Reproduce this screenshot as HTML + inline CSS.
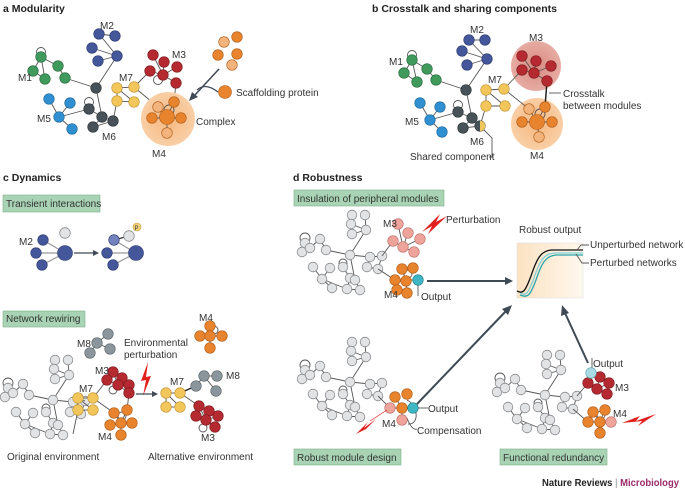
<!DOCTYPE html>
<html><head><meta charset="utf-8"><style>
html,body{margin:0;padding:0;background:#fff}
svg{display:block}
text{font-family:"Liberation Sans",sans-serif;font-size:10px;fill:#333}
.t{font-weight:bold;font-size:10.5px;fill:#222}
.e{stroke:#555;stroke-width:0.9;fill:none}
.g{fill:#e2e3e5;stroke:#8a8c8f;stroke-width:0.8}
</style></head><body>
<svg width="685" height="491" viewBox="0 0 685 491" xmlns="http://www.w3.org/2000/svg">
<defs>
<radialGradient id="og"><stop offset="0" stop-color="#f6b77f"/><stop offset="1" stop-color="#f9cfa6"/></radialGradient>
<radialGradient id="rg"><stop offset="0" stop-color="#d88a80"/><stop offset="1" stop-color="#e7aca3"/></radialGradient>
<linearGradient id="cg" x1="0" x2="1"><stop offset="0" stop-color="#fbe2c2"/><stop offset="1" stop-color="#fff8ee"/></linearGradient>
<g id="net">
<g class="e">
<line x1="52" y1="2" x2="51" y2="11"/><line x1="65" y1="2" x2="66" y2="17"/><line x1="51" y1="11" x2="66" y2="17"/><line x1="52" y1="21" x2="66" y2="17"/>
<line x1="66" y1="17" x2="50" y2="42"/><line x1="5" y1="30" x2="10" y2="35"/><line x1="5" y1="30" x2="2" y2="39"/><line x1="20" y1="26" x2="26" y2="37"/>
<line x1="10" y1="35" x2="20" y2="26"/><line x1="26" y1="37" x2="50" y2="42"/><line x1="50" y1="42" x2="70" y2="44"/><line x1="70" y1="44" x2="82" y2="43"/>
<line x1="50" y1="42" x2="55" y2="67"/><line x1="13" y1="54" x2="22" y2="66"/><line x1="30" y1="55" x2="22" y2="66"/><line x1="22" y1="66" x2="32" y2="75"/>
<line x1="22" y1="66" x2="47" y2="76"/><line x1="43" y1="54" x2="50" y2="65"/><line x1="50" y1="65" x2="47" y2="76"/><line x1="55" y1="67" x2="60" y2="77"/>
<line x1="47" y1="76" x2="60" y2="77"/><line x1="70" y1="44" x2="67" y2="54"/><line x1="67" y1="54" x2="78" y2="56"/><line x1="82" y1="43" x2="78" y2="56"/>
<circle cx="5" cy="25" r="5"/><circle cx="43" cy="50" r="4"/>
</g>
<g class="g">
<circle cx="52" cy="2" r="4.8"/><circle cx="65" cy="2" r="4.8"/><circle cx="51" cy="11" r="4.8"/><circle cx="66" cy="17" r="4.8"/><circle cx="52" cy="21" r="4.8"/>
<circle cx="5" cy="30" r="4.8"/><circle cx="2" cy="39" r="4.8"/><circle cx="20" cy="26" r="4.8"/><circle cx="10" cy="35" r="4.8"/><circle cx="26" cy="37" r="4.8"/>
<circle cx="50" cy="42" r="4.8"/><circle cx="70" cy="44" r="4.8"/><circle cx="82" cy="43" r="4.8"/><circle cx="13" cy="54" r="4.8"/><circle cx="30" cy="55" r="4.8"/>
<circle cx="43" cy="54" r="4.8"/><circle cx="22" cy="66" r="4.8"/><circle cx="32" cy="75" r="4.8"/><circle cx="50" cy="65" r="4.8"/><circle cx="55" cy="67" r="4.8"/>
<circle cx="47" cy="76" r="4.8"/><circle cx="60" cy="77" r="4.8"/><circle cx="67" cy="54" r="4.8"/><circle cx="78" cy="56" r="4.8"/>
</g>
</g>
</defs>

<!-- ===== a ===== -->
<text x="3" y="12" class="t">a  Modularity</text>
<g class="e">
<circle cx="41" cy="52" r="4.5"/>
<line x1="41" y1="57" x2="58" y2="66"/><line x1="41" y1="57" x2="33" y2="71"/><line x1="41" y1="57" x2="45" y2="79"/><line x1="33" y1="71" x2="45" y2="79"/><line x1="58" y1="66" x2="65" y2="78"/>
<line x1="65" y1="78" x2="96" y2="88"/><line x1="99" y1="34" x2="115" y2="36"/><line x1="99" y1="34" x2="117" y2="56"/><line x1="92" y1="48" x2="117" y2="56"/><line x1="98" y1="61" x2="117" y2="56"/>
<line x1="117" y1="56" x2="96" y2="88"/><line x1="96" y1="88" x2="102" y2="117"/><line x1="59" y1="117" x2="49" y2="99"/><line x1="59" y1="117" x2="70" y2="103"/><line x1="59" y1="117" x2="72" y2="129"/>
<line x1="59" y1="117" x2="89" y2="109"/><line x1="89" y1="109" x2="102" y2="117"/><line x1="102" y1="117" x2="93" y2="127"/><line x1="93" y1="127" x2="113" y2="121"/><line x1="113" y1="121" x2="117" y2="101"/>
<circle cx="89" cy="102" r="4.5"/>
<line x1="117" y1="88" x2="134" y2="87"/><line x1="117" y1="88" x2="117" y2="101"/><line x1="117" y1="101" x2="134" y2="102"/><line x1="117" y1="88" x2="134" y2="102"/>
<line x1="134" y1="87" x2="150" y2="71"/><line x1="134" y1="87" x2="158" y2="107"/>
<line x1="153" y1="55" x2="163" y2="75"/><line x1="164" y1="62" x2="163" y2="75"/><line x1="177" y1="67" x2="163" y2="75"/><line x1="150" y1="71" x2="163" y2="75"/><line x1="163" y1="75" x2="176" y2="83"/><circle cx="158" cy="80" r="4.5"/>
<line x1="176" y1="83" x2="174" y2="102"/>
</g>
<circle cx="168" cy="119" r="27" fill="url(#og)"/>
<g class="e"><line x1="158" y1="107" x2="167" y2="117"/><line x1="174" y1="102" x2="167" y2="117"/><line x1="152" y1="118" x2="181" y2="118"/><line x1="167" y1="117" x2="167" y2="133"/><circle cx="169" cy="110" r="5"/></g>
<g stroke-width="0.6">
<g fill="#3f9a5c" stroke="#2a6b3f"><circle cx="41" cy="57" r="5.3"/><circle cx="58" cy="66" r="5.3"/><circle cx="33" cy="71" r="5.3"/><circle cx="45" cy="79" r="5.3"/><circle cx="65" cy="78" r="5.3"/></g>
<g fill="#44579a" stroke="#2d3b6e"><circle cx="99" cy="34" r="5.3"/><circle cx="115" cy="36" r="5.3"/><circle cx="92" cy="48" r="5.3"/><circle cx="117" cy="56" r="5.3"/><circle cx="98" cy="61" r="5.3"/></g>
<g fill="#465257" stroke="#2c3438"><circle cx="96" cy="88" r="5.3"/><circle cx="89" cy="109" r="5.3"/><circle cx="102" cy="117" r="5.3"/><circle cx="93" cy="127" r="5.3"/><circle cx="113" cy="121" r="5.3"/></g>
<g fill="#2f8fd0" stroke="#1f6a9c"><circle cx="49" cy="99" r="5.3"/><circle cx="70" cy="103" r="5.3"/><circle cx="59" cy="117" r="5.3"/><circle cx="72" cy="129" r="5.3"/></g>
<g fill="#f3c65c" stroke="#c19632"><circle cx="117" cy="88" r="5.3"/><circle cx="134" cy="87" r="5.3"/><circle cx="117" cy="101" r="5.3"/><circle cx="134" cy="102" r="5.3"/></g>
<g fill="#b52a30" stroke="#7e1a1f"><circle cx="153" cy="55" r="5.3"/><circle cx="164" cy="62" r="5.3"/><circle cx="177" cy="67" r="5.3"/><circle cx="150" cy="71" r="5.3"/><circle cx="163" cy="75" r="5.3"/><circle cx="176" cy="83" r="5.3"/></g>
<g fill="#e8842e" stroke="#b05b17"><circle cx="158" cy="107" r="5.3" fill="#f2b47c"/><circle cx="174" cy="102" r="5.3"/><circle cx="167" cy="117" r="7.5"/><circle cx="152" cy="118" r="5.3"/><circle cx="181" cy="118" r="5.3"/><circle cx="167" cy="133" r="5.3" fill="#f2b47c"/>
<circle cx="224" cy="42" r="5.3" fill="#f2b47c"/><circle cx="237" cy="37" r="5.3"/><circle cx="218" cy="55" r="5.3"/><circle cx="237" cy="54" r="5.3"/><circle cx="232" cy="65" r="5.3" fill="#f2b47c"/><circle cx="225" cy="92" r="6.5"/></g>
</g>
<path d="M219,69 L194,96" stroke="#3e4a55" stroke-width="1.5" fill="none"/><polygon points="189,101 192,92 198,97" fill="#3e4a55"/>
<path d="M218,92 Q205,82 197,90" stroke="#3e4a55" stroke-width="1.2" fill="none"/>
<text x="18" y="81">M1</text><text x="100" y="29">M2</text><text x="172" y="58">M3</text><text x="152" y="157">M4</text><text x="37" y="122">M5</text><text x="102" y="140">M6</text><text x="119" y="81">M7</text>
<text x="196" y="125">Complex</text><text x="236" y="96">Scaffolding protein</text>

<!-- ===== b ===== -->
<text x="372" y="12" class="t">b  Crosstalk and sharing components</text>
<circle cx="536" cy="66" r="25" fill="url(#rg)"/>
<circle cx="537" cy="124" r="26" fill="url(#og)"/>
<g class="e">
<circle cx="412" cy="55" r="4.5"/>
<line x1="412" y1="60" x2="427" y2="69"/><line x1="412" y1="60" x2="404" y2="73"/><line x1="412" y1="60" x2="417" y2="82"/><line x1="404" y1="73" x2="417" y2="82"/><line x1="427" y1="69" x2="436" y2="80"/>
<line x1="436" y1="80" x2="466" y2="90"/><line x1="469" y1="40" x2="485" y2="40"/><line x1="469" y1="40" x2="487" y2="59"/><line x1="462" y1="51" x2="487" y2="59"/><line x1="467" y1="65" x2="487" y2="59"/>
<line x1="487" y1="59" x2="466" y2="90"/><line x1="466" y1="90" x2="472" y2="118"/><line x1="430" y1="120" x2="420" y2="103"/><line x1="430" y1="120" x2="440" y2="107"/><line x1="430" y1="120" x2="442" y2="132"/>
<line x1="430" y1="120" x2="458" y2="112"/><line x1="458" y1="112" x2="472" y2="118"/><line x1="472" y1="118" x2="463" y2="128"/><line x1="463" y1="128" x2="480" y2="126"/><line x1="480" y1="126" x2="486" y2="106"/><circle cx="458" cy="105" r="4.5"/>
<line x1="486" y1="90" x2="504" y2="89"/><line x1="486" y1="90" x2="486" y2="106"/><line x1="486" y1="106" x2="505" y2="106"/><line x1="486" y1="90" x2="505" y2="106"/>
<line x1="504" y1="89" x2="522" y2="70"/><line x1="504" y1="89" x2="529" y2="109"/>
<line x1="522" y1="56" x2="534" y2="73"/><line x1="536" y1="61" x2="534" y2="73"/><line x1="551" y1="66" x2="534" y2="73"/><line x1="522" y1="70" x2="534" y2="73"/><line x1="534" y1="73" x2="547" y2="81"/>
<line x1="537" y1="122" x2="529" y2="109"/><line x1="537" y1="122" x2="545" y2="107"/><line x1="522" y1="122" x2="552" y2="122"/><line x1="537" y1="122" x2="539" y2="137"/><circle cx="540" cy="114" r="5"/>
<polyline points="482,128 492,138 492,157 489,157"/><line x1="549" y1="93" x2="561" y2="93"/>
</g>
<line x1="547" y1="81" x2="545" y2="107" stroke="#222" stroke-width="1.5"/>
<g stroke-width="0.6">
<g fill="#3f9a5c" stroke="#2a6b3f"><circle cx="412" cy="60" r="5.3"/><circle cx="427" cy="69" r="5.3"/><circle cx="404" cy="73" r="5.3"/><circle cx="417" cy="82" r="5.3"/><circle cx="436" cy="80" r="5.3"/></g>
<g fill="#44579a" stroke="#2d3b6e"><circle cx="469" cy="40" r="5.3"/><circle cx="485" cy="40" r="5.3"/><circle cx="462" cy="51" r="5.3"/><circle cx="487" cy="59" r="5.3"/><circle cx="467" cy="65" r="5.3"/></g>
<g fill="#465257" stroke="#2c3438"><circle cx="466" cy="90" r="5.3"/><circle cx="458" cy="112" r="5.3"/><circle cx="472" cy="118" r="5.3"/><circle cx="463" cy="128" r="5.3"/><circle cx="480" cy="126" r="5.3"/></g>
<path d="M480,120.7 A5.3,5.3 0 0 1 480,131.3 Z" fill="#f3c65c"/>
<g fill="#2f8fd0" stroke="#1f6a9c"><circle cx="420" cy="103" r="5.3"/><circle cx="440" cy="107" r="5.3"/><circle cx="430" cy="120" r="5.3"/><circle cx="442" cy="132" r="5.3"/></g>
<g fill="#f3c65c" stroke="#c19632"><circle cx="486" cy="90" r="5.3"/><circle cx="504" cy="89" r="5.3"/><circle cx="486" cy="106" r="5.3"/><circle cx="505" cy="106" r="5.3"/></g>
<g fill="#b52a30" stroke="#7e1a1f"><circle cx="522" cy="56" r="5.3"/><circle cx="536" cy="61" r="5.3"/><circle cx="551" cy="66" r="5.3"/><circle cx="522" cy="70" r="5.3"/><circle cx="534" cy="73" r="5.3"/><circle cx="547" cy="81" r="5.3"/></g>
<g fill="#e8842e" stroke="#b05b17"><circle cx="529" cy="109" r="5.3" fill="#f2b47c"/><circle cx="545" cy="107" r="5.3"/><circle cx="537" cy="122" r="7.5"/><circle cx="522" cy="122" r="5.3"/><circle cx="552" cy="122" r="5.3"/><circle cx="539" cy="137" r="5.3" fill="#f2b47c"/></g>
</g>
<text x="389" y="65">M1</text><text x="470" y="33">M2</text><text x="529" y="41">M3</text><text x="530" y="159">M4</text><text x="405" y="125">M5</text><text x="470" y="145">M6</text><text x="488" y="83">M7</text>
<text x="563" y="97">Crosstalk</text><text x="563" y="109">between modules</text><text x="410" y="160">Shared component</text>

<!-- ===== c ===== -->
<text x="3" y="181" class="t">c  Dynamics</text>
<rect x="3" y="195" width="97" height="17" fill="#a8d3b4" stroke="#7fb08d" stroke-width="0.6"/>
<text x="6" y="207">Transient interactions</text>
<g stroke="#999" stroke-width="1.2"><line x1="43" y1="240" x2="65" y2="253"/><line x1="36" y1="253" x2="65" y2="253"/><line x1="42" y1="265" x2="65" y2="253"/>
<line x1="114" y1="240" x2="136" y2="253"/><line x1="107" y1="253" x2="136" y2="253"/><line x1="113" y1="265" x2="136" y2="253"/><line x1="114" y1="240" x2="129" y2="236" stroke="#333"/></g>
<g fill="#44579a" stroke="#2d3b6e" stroke-width="0.6"><circle cx="43" cy="240" r="5.3"/><circle cx="36" cy="253" r="5.3"/><circle cx="42" cy="265" r="5.3"/><circle cx="65" cy="253" r="7.5"/>
<circle cx="114" cy="240" r="5.3" fill="#7383bd"/><circle cx="107" cy="253" r="5.3"/><circle cx="113" cy="265" r="5.3"/><circle cx="136" cy="253" r="7.5"/></g>
<circle cx="65" cy="233" r="5.3" class="g"/><circle cx="129" cy="236" r="5.3" class="g"/>
<circle cx="137" cy="227" r="4" fill="#f4d27a" stroke="#b8953a" stroke-width="0.6"/><text x="134.5" y="230" style="font-size:6px">P</text>
<line x1="74" y1="253" x2="94" y2="253" stroke="#3e4a55" stroke-width="1.2"/><polygon points="99,253 93,250 93,256" fill="#3e4a55"/>
<text x="19" y="245">M2</text>

<rect x="3" y="311" width="82" height="16" fill="#a8d3b4" stroke="#7fb08d" stroke-width="0.6"/>
<text x="6" y="322">Network rewiring</text>
<use href="#net" x="3" y="358"/>
<g class="e">
<line x1="97" y1="343" x2="108" y2="334"/><line x1="97" y1="343" x2="110" y2="349"/><line x1="97" y1="343" x2="90" y2="353"/>
<line x1="85" y1="401" x2="78" y2="398"/><line x1="73" y1="434" x2="78" y2="410"/>
<line x1="78" y1="398" x2="93" y2="398"/><line x1="78" y1="398" x2="78" y2="410"/><line x1="78" y1="410" x2="93" y2="410"/><line x1="78" y1="398" x2="93" y2="410"/>
<line x1="93" y1="398" x2="107" y2="380"/><line x1="93" y1="398" x2="114" y2="413"/>
<line x1="113" y1="372" x2="118" y2="385"/><line x1="122" y1="378" x2="118" y2="385"/><line x1="107" y1="380" x2="118" y2="385"/><line x1="118" y1="385" x2="129" y2="393"/><line x1="129" y1="385" x2="129" y2="393"/><circle cx="113" cy="390" r="4"/>
<line x1="129" y1="393" x2="127" y2="410"/>
<line x1="121" y1="423" x2="127" y2="410"/><line x1="121" y1="423" x2="114" y2="413"/><line x1="110" y1="425" x2="132" y2="423"/><line x1="121" y1="423" x2="121" y2="435"/><circle cx="122" cy="416" r="4"/>
<line x1="166" y1="393" x2="180" y2="393"/><line x1="166" y1="393" x2="166" y2="407"/><line x1="166" y1="407" x2="180" y2="407"/><line x1="166" y1="393" x2="180" y2="407"/>
<line x1="180" y1="393" x2="199" y2="406"/><line x1="196" y1="386" x2="204" y2="376"/><line x1="204" y1="376" x2="217" y2="376"/><line x1="204" y1="376" x2="216" y2="391"/>
<line x1="199" y1="406" x2="206" y2="420"/><line x1="209" y1="411" x2="206" y2="420"/><line x1="196" y1="416" x2="206" y2="420"/><line x1="218" y1="416" x2="206" y2="420"/><line x1="206" y1="420" x2="215" y2="427"/><circle cx="203" cy="428" r="4"/>
<line x1="210" y1="326" x2="210" y2="336"/><line x1="200" y1="336" x2="222" y2="336"/><line x1="210" y1="336" x2="210" y2="348"/><circle cx="214" cy="330" r="4"/>
</g>
<line x1="180" y1="393" x2="196" y2="386" stroke="#222" stroke-width="1.5"/>
<g stroke-width="0.6">
<g fill="#8a969c" stroke="#5c676c"><circle cx="97" cy="343" r="5.3"/><circle cx="108" cy="334" r="5.3"/><circle cx="110" cy="349" r="5.3"/><circle cx="90" cy="353" r="5.3"/>
<circle cx="196" cy="386" r="5.3"/><circle cx="204" cy="376" r="5.3"/><circle cx="217" cy="376" r="5.3"/><circle cx="216" cy="391" r="5.3"/></g>
<g fill="#f3c65c" stroke="#c19632"><circle cx="78" cy="398" r="5.3"/><circle cx="93" cy="398" r="5.3"/><circle cx="78" cy="410" r="5.3"/><circle cx="93" cy="410" r="5.3"/>
<circle cx="166" cy="393" r="5.3"/><circle cx="180" cy="393" r="5.3"/><circle cx="166" cy="407" r="5.3"/><circle cx="180" cy="407" r="5.3"/></g>
<g fill="#b52a30" stroke="#7e1a1f"><circle cx="113" cy="372" r="5.3"/><circle cx="122" cy="378" r="5.3"/><circle cx="107" cy="380" r="5.3"/><circle cx="118" cy="385" r="5.3"/><circle cx="129" cy="385" r="5.3"/><circle cx="129" cy="393" r="5.3"/>
<circle cx="199" cy="406" r="5.3"/><circle cx="209" cy="411" r="5.3"/><circle cx="196" cy="416" r="5.3"/><circle cx="206" cy="420" r="5.3"/><circle cx="218" cy="416" r="5.3"/><circle cx="215" cy="427" r="5.3"/></g>
<g fill="#e8842e" stroke="#b05b17"><circle cx="127" cy="410" r="5.3"/><circle cx="114" cy="413" r="5.3"/><circle cx="121" cy="423" r="5.3"/><circle cx="132" cy="423" r="5.3"/><circle cx="110" cy="425" r="5.3"/><circle cx="121" cy="435" r="5.3"/>
<circle cx="210" cy="326" r="5.3"/><circle cx="200" cy="336" r="5.3"/><circle cx="210" cy="336" r="5.3"/><circle cx="222" cy="336" r="5.3"/><circle cx="210" cy="348" r="5.3"/></g>
</g>
<polygon points="148,362 141,381 146,380 143,396 151,376 146,377" fill="#e0201e"/>
<line x1="136" y1="394" x2="153" y2="394" stroke="#3e4a55" stroke-width="1.2"/><polygon points="158,394 152,391 152,397" fill="#3e4a55"/>
<text x="77" y="347">M8</text><text x="124" y="346">Environmental</text><text x="124" y="358">perturbation</text>
<text x="95" y="374">M3</text><text x="79" y="392">M7</text><text x="98" y="440">M4</text>
<text x="170" y="385">M7</text><text x="226" y="379">M8</text><text x="201" y="441">M3</text><text x="199" y="321">M4</text>
<text x="7" y="460">Original environment</text><text x="148" y="460">Alternative environment</text>

<!-- ===== d ===== -->
<text x="293" y="181" class="t">d  Robustness</text>
<rect x="294" y="190" width="150" height="16" fill="#a8d3b4" stroke="#7fb08d" stroke-width="0.6"/>
<text x="297" y="202">Insulation of peripheral modules</text>
<use href="#net" x="300" y="213"/>
<g class="e"><line x1="382" y1="256" x2="393" y2="241"/><line x1="378" y1="269" x2="395" y2="280"/>
<line x1="398" y1="224" x2="403" y2="247"/><line x1="408" y1="233" x2="403" y2="247"/><line x1="393" y1="241" x2="403" y2="247"/><line x1="420" y1="239" x2="403" y2="247"/><line x1="403" y1="247" x2="414" y2="252"/>
<line x1="402" y1="269" x2="406" y2="281"/><line x1="395" y1="280" x2="418" y2="280"/><line x1="406" y1="281" x2="407" y2="293"/><circle cx="408" cy="274" r="4"/><line x1="418" y1="285" x2="418" y2="296"/></g>
<g stroke-width="0.6">
<g fill="#eea39b" stroke="#b97069"><circle cx="398" cy="224" r="5.3"/><circle cx="408" cy="233" r="5.3"/><circle cx="393" cy="241" r="5.3"/><circle cx="420" cy="239" r="5.3"/><circle cx="403" cy="247" r="5.3"/><circle cx="414" cy="252" r="5.3"/></g>
<g fill="#e8842e" stroke="#b05b17"><circle cx="402" cy="269" r="5.3"/><circle cx="413" cy="268" r="5.3"/><circle cx="395" cy="280" r="5.3"/><circle cx="406" cy="281" r="5.3"/><circle cx="397" cy="290" r="5.3"/><circle cx="407" cy="293" r="5.3"/></g>
<circle cx="418" cy="280" r="5.3" fill="#3fb6c4" stroke="#23808a"/>
</g>
<polygon points="422,232 440,214 436,222 447,216 428,234 432,226" fill="#e0201e"/>
<text x="383" y="227">M3</text><text x="446" y="223">Perturbation</text><text x="384" y="298">M4</text><text x="421" y="300">Output</text>
<line x1="427" y1="281" x2="506" y2="281" stroke="#3e4a55" stroke-width="2"/><polygon points="513,281 505,277 505,285" fill="#3e4a55"/>

<text x="519" y="233">Robust output</text>
<rect x="517" y="243" width="66" height="55" fill="url(#cg)" stroke="#ddd" stroke-width="0.5"/>
<path d="M520,295 C528,298 530,296 536,280 C542,262 546,256 556,255 L583,255" stroke="#2aa6ae" stroke-width="1.3" fill="none"/>
<path d="M520,293 C526,296 528,294 534,278 C540,260 544,254 554,253 L583,253" stroke="#86d0d5" stroke-width="1.3" fill="none"/>
<path d="M517,291 C523,294 525,292 531,276 C537,258 541,251 551,250 L583,250" stroke="#111" stroke-width="1.3" fill="none"/>
<g class="e"><polyline points="577,250 581,245 589,245"/><polyline points="576,254 582,263 589,263"/></g>
<text x="590" y="248">Unperturbed network</text><text x="590" y="266">Perturbed networks</text>

<use href="#net" x="300" y="340"/>
<g class="e"><line x1="378" y1="396" x2="390" y2="408"/><line x1="395" y1="397" x2="402" y2="408"/><line x1="390" y1="408" x2="413" y2="408"/><line x1="402" y1="408" x2="402" y2="420"/>
<path d="M407,400 C418,405 420,425 408,424"/><line x1="418" y1="408" x2="428" y2="408"/><path d="M407,418 Q412,431 417,429"/></g>
<g stroke-width="0.6">
<g fill="#e8842e" stroke="#b05b17"><circle cx="395" cy="397" r="5.3"/><circle cx="407" cy="394" r="5.3"/><circle cx="402" cy="408" r="5.3"/></g>
<g fill="#eea39b" stroke="#b97069"><circle cx="390" cy="408" r="5.3"/><circle cx="402" cy="420" r="5.3"/></g>
<circle cx="413" cy="408" r="5.3" fill="#3fb6c4" stroke="#23808a"/>
</g>
<polygon points="356,434 368,422 364,428 376,419 362,433 366,429" fill="#e0201e"/>
<line x1="387" y1="410" x2="370" y2="421" stroke="#e0201e" stroke-width="0.7"/>
<text x="382" y="427">M4</text><text x="428" y="412">Output</text><text x="417" y="434">Compensation</text>
<line x1="417" y1="404" x2="506" y2="311" stroke="#3e4a55" stroke-width="2"/><polygon points="512,305 502,309 508,315" fill="#3e4a55"/>
<rect x="294" y="449" width="107" height="16" fill="#a8d3b4" stroke="#7fb08d" stroke-width="0.6"/>
<text x="297" y="461">Robust module design</text>

<use href="#net" x="495" y="353"/>
<g class="e"><line x1="577" y1="396" x2="588" y2="383"/><line x1="573" y1="409" x2="588" y2="422"/>
<line x1="591" y1="373" x2="588" y2="383"/><line x1="588" y1="383" x2="597" y2="389"/><line x1="600" y1="377" x2="597" y2="389"/><line x1="609" y1="383" x2="597" y2="389"/><line x1="597" y1="389" x2="607" y2="394"/>
<line x1="593" y1="412" x2="600" y2="422"/><line x1="605" y1="410" x2="600" y2="422"/><line x1="588" y1="422" x2="611" y2="422"/><line x1="600" y1="422" x2="600" y2="433"/><circle cx="601" cy="415" r="4"/><line x1="592" y1="368" x2="592" y2="358"/></g>
<g stroke-width="0.6">
<g fill="#b52a30" stroke="#7e1a1f"><circle cx="588" cy="383" r="5.3"/><circle cx="600" cy="377" r="5.3"/><circle cx="609" cy="383" r="5.3"/><circle cx="597" cy="389" r="5.3"/><circle cx="607" cy="394" r="5.3"/></g>
<g fill="#e8842e" stroke="#b05b17"><circle cx="593" cy="412" r="5.3"/><circle cx="605" cy="410" r="5.3"/><circle cx="588" cy="422" r="5.3"/><circle cx="600" cy="422" r="5.3"/><circle cx="600" cy="433" r="5.3"/></g>
<circle cx="611" cy="422" r="5.3" fill="#eea39b" stroke="#b97069"/>
<circle cx="591" cy="373" r="5.3" fill="#a8dbe3" stroke="#5fa3ad"/>
</g>
<polygon points="622,423 640,416 636,421 656,414 638,426 642,421" fill="#e0201e"/>
<text x="593" y="367">Output</text><text x="615" y="391">M3</text><text x="613" y="417">M4</text>
<line x1="588" y1="363" x2="565" y2="313" stroke="#3e4a55" stroke-width="2"/><polygon points="562,305 561,316 569,313" fill="#3e4a55"/>
<rect x="500" y="449" width="107" height="16" fill="#a8d3b4" stroke="#7fb08d" stroke-width="0.6"/>
<text x="503" y="461">Functional redundancy</text>

<text x="542" y="486" textLength="137" lengthAdjust="spacingAndGlyphs" style="font-weight:bold;font-size:10px;fill:#222">Nature Reviews <tspan style="font-weight:normal;fill:#888">|</tspan> <tspan style="fill:#9c2a6a">Microbiology</tspan></text>
</svg>
</body></html>
